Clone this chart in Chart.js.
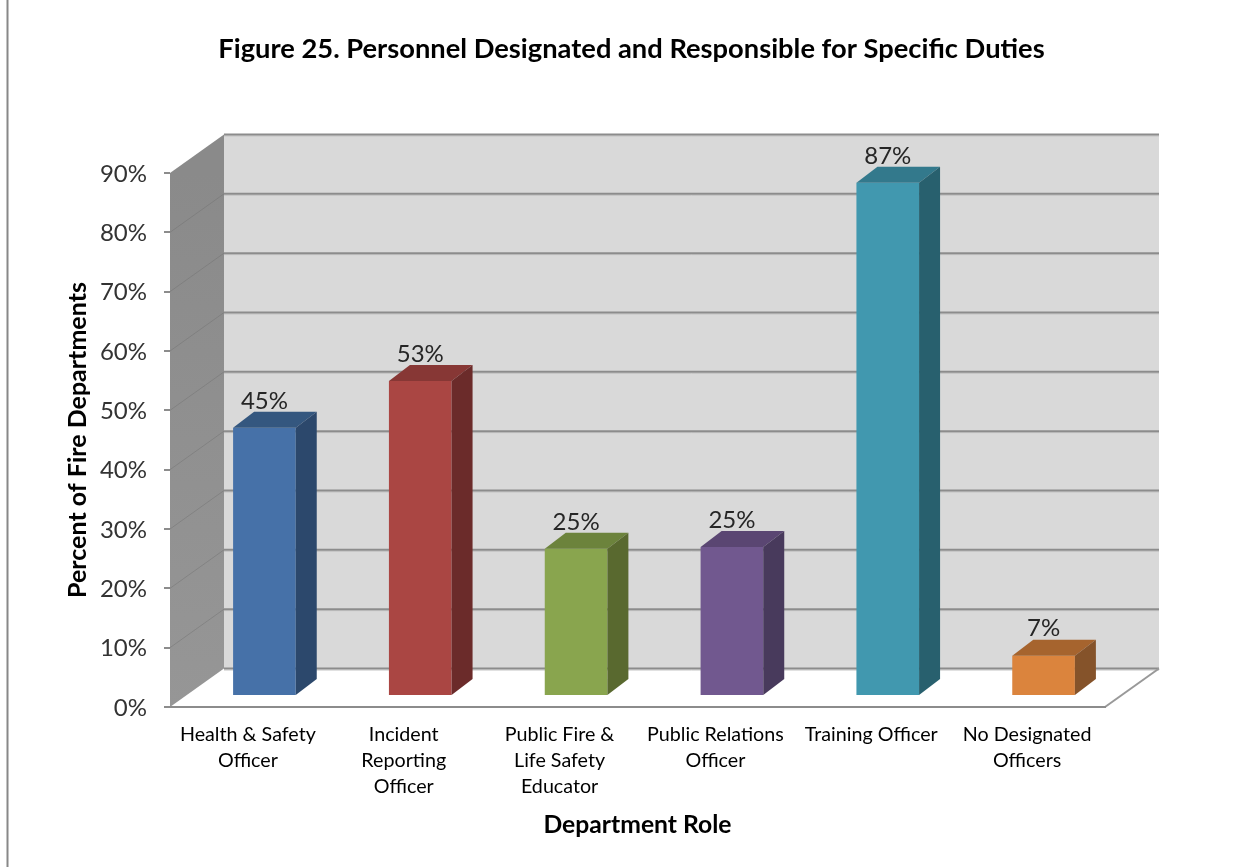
<!DOCTYPE html>
<html><head><meta charset="utf-8">
<script src="https://cdn.jsdelivr.net/npm/chart.js@4/dist/chart.umd.min.js"></script>
<style>html,body{margin:0;padding:0;background:#fff;overflow:hidden}canvas{display:block;filter:blur(0.45px)}</style>
</head><body><canvas id="c" width="1252" height="867"></canvas>
<script>
const chartTitle = "Figure 25. Personnel Designated and Responsible for Specific Duties";
const yTitle = "Percent of Fire Departments";
const xTitle = "Department Role";
const categories = [["Health & Safety","Officer"],["Incident","Reporting","Officer"],["Public Fire &","Life Safety","Educator"],["Public Relations","Officer"],["Training Officer"],["No Designated","Officers"]];
const values = [45.2,53.1,24.8,25.1,86.5,6.8];
const frontColors = ["#4671a8","#aa4643","#89a54e","#71588f","#4198af","#db843d"];
const topColors = ["#34577f","#873735","#6c833c","#5a4672","#33798c","#a6642e"];
const sideColors = ["#2c486c","#6b2b2a","#59692f","#483a5c","#28606e","#85532a"];
const wallDepth = [54,-38.5], barDepth = [21,-16], barShift = [16.5,-11];
const uiFont = "Lato";

const threeD = {
  id:'threeD',
  beforeDraw(chart){
    const c=chart.ctx,a=chart.chartArea,y=chart.scales.y;
    const [dx,dy]=wallDepth;
    c.save();
    c.fillStyle='#fff';c.fillRect(0,0,chart.width,chart.height);
    c.fillStyle='#888';c.fillRect(6.5,0,2,chart.height);
    c.fillStyle='#d9d9d9';
    c.fillRect(a.left+dx,a.top+dy,a.right-a.left,a.bottom-a.top);
    const g=c.createLinearGradient(0,a.top,0,a.bottom);
    g.addColorStop(0,'#8a8a8a');g.addColorStop(1,'#969696');
    c.fillStyle=g;
    c.beginPath();c.moveTo(a.left,a.top);c.lineTo(a.left+dx,a.top+dy);c.lineTo(a.left+dx,a.bottom+dy);c.lineTo(a.left,a.bottom);c.closePath();c.fill();
    y.ticks.forEach(t=>{
      const py=y.getPixelForValue(t.value);
      c.strokeStyle='rgba(110,110,110,0.45)';c.lineWidth=1;
      if(t.value>0&&t.value<90){c.beginPath();c.moveTo(a.left,py);c.lineTo(a.left+dx,py+dy);c.stroke();}
      c.strokeStyle='#c4c4c4';c.lineWidth=1;
      c.beginPath();c.moveTo(a.left+dx,py+dy+1.5);c.lineTo(a.right+dx,py+dy+1.5);c.stroke();
      c.strokeStyle='#8c8c8c';c.lineWidth=2;
      c.beginPath();c.moveTo(a.left+dx,py+dy);c.lineTo(a.right+dx,py+dy);c.stroke();
    });
    c.strokeStyle='#999';c.lineWidth=2;
    c.beginPath();c.moveTo(a.right,a.bottom);c.lineTo(a.right+dx,a.bottom+dy);c.stroke();
    c.restore();
  },
  beforeDatasetsDraw(chart){chart.ctx.save();chart.ctx.translate(barShift[0],barShift[1]);},
  afterDatasetsDraw(chart){
    const c=chart.ctx;c.restore();
    const [bx,by]=barDepth;
    chart.getDatasetMeta(0).data.forEach((b,i)=>{
      const l=b.x-b.width/2+barShift[0], r=b.x+b.width/2+barShift[0], t=b.y+barShift[1], bt=b.base+barShift[1];
      c.fillStyle=topColors[i];
      c.beginPath();c.moveTo(l,t);c.lineTo(l+bx,t+by);c.lineTo(r+bx,t+by);c.lineTo(r,t);c.closePath();c.fill();
      c.fillStyle=sideColors[i];
      c.beginPath();c.moveTo(r,t);c.lineTo(r+bx,t+by);c.lineTo(r+bx,bt+by);c.lineTo(r,bt);c.closePath();c.fill();
      c.fillStyle='#262626';c.font="24px "+uiFont;c.textAlign='center';c.textBaseline='middle';
      c.fillText(Math.round(values[i])+'%',(l+r)/2,t-27);
    });
    c.fillStyle='#000';c.font="bold 27.3px "+uiFont;c.textAlign='center';c.textBaseline='middle';
    c.fillText(chartTitle,631.5,49);
  }
};

new Chart(document.getElementById('c'),{
  type:'bar',
  data:{labels:categories,datasets:[{data:values,backgroundColor:frontColors,borderWidth:0,barPercentage:0.402,categoryPercentage:1,clip:false}]},
  plugins:[threeD],
  options:{
    responsive:false,animation:false,
    layout:{padding:{top:173,right:147,left:0,bottom:0}},
    plugins:{legend:{display:false},tooltip:{enabled:false}},
    scales:{
      x:{
        afterFit(s){s.height=160;},
        grid:{display:false},
        border:{display:true,color:'#8c8c8c',width:2},
        ticks:{autoSkip:false,maxRotation:0,minRotation:0,padding:7,color:'#000',font:{family:uiFont,size:19.7,lineHeight:1.32}},
        title:{display:true,text:xTitle,color:'#000',font:{family:uiFont,size:24.7,weight:'bold'},padding:{top:0,bottom:27},align:'center'}
      },
      y:{
        min:0,max:90,
        afterFit(s){s.width=170;},
        grid:{drawOnChartArea:false,drawTicks:true,tickLength:6,color:'#8c8c8c',lineWidth:2},
        border:{display:false},
        ticks:{stepSize:10,padding:17,color:'#333',labelOffset:1,font:{family:uiFont,size:24},callback:v=>v+'%'},
        title:{display:true,text:yTitle,color:'#000',font:{family:uiFont,size:25,weight:'bold'},padding:{top:63,bottom:0}}
      }
    }
  }
});
</script></body></html>
